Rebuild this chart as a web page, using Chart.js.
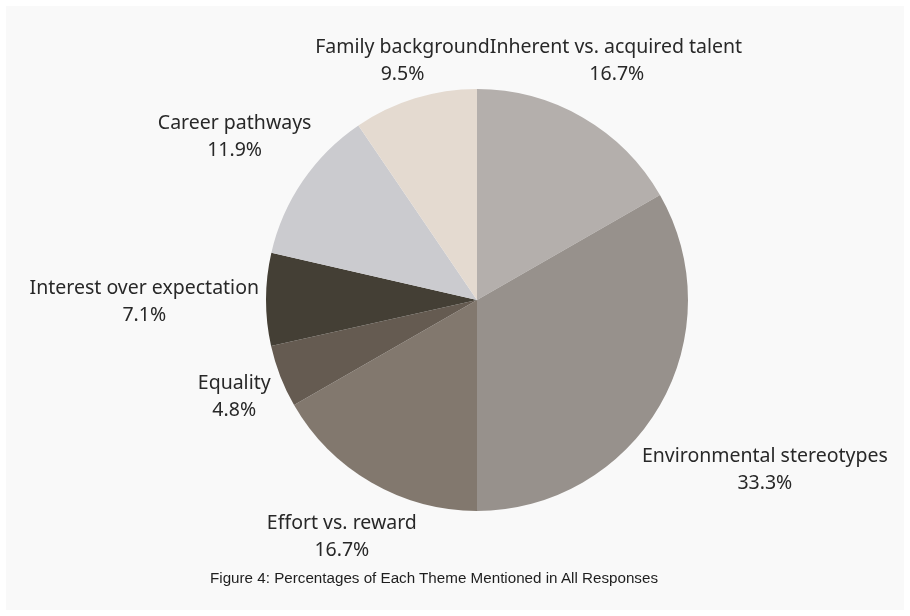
<!DOCTYPE html>
<html>
<head>
<meta charset="utf-8">
<script src="https://cdn.jsdelivr.net/npm/chart.js@4.4.1/dist/chart.umd.min.js"></script>
<style>
    html, body { margin: 0; padding: 0; background: #ffffff; }
    #panel {
        position: absolute; left: 6px; top: 6px; width: 898px; height: 604px;
        background: #f9f9f9;
    }
    #wrap { position: absolute; left: 0; top: 0; width: 910px; height: 616px; }
    #caption {
        position: absolute; left: 210px; top: 569px;
        font-family: "Liberation Sans", Arial, sans-serif; font-size: 15.2px;
        color: #1e1e1e; white-space: nowrap;
    }
</style>
</head>
<body>
<div id="panel"></div>
<div id="wrap"><canvas id="themesChart"></canvas></div>
<div id="caption">Figure 4: Percentages of Each Theme Mentioned in All Responses</div>

<script>
// themes, clockwise from 12 o'clock
const themes = [
    'Inherent vs. acquired talent',
    'Environmental stereotypes',
    'Effort vs. reward',
    'Equality',
    'Interest over expectation',
    'Career pathways',
    'Family background'
];

// share of responses (%)
const shares = [16.7, 33.3, 16.7, 4.8, 7.1, 11.9, 9.5];

const sliceColors = ['#b4afac', '#97918c', '#82786e', '#655b51', '#443f35', '#cbcbcf', '#e4dad0'];

const labelFont = '19.5px "Noto Sans", "Open Sans", sans-serif';

// name + percentage outside every slice, pushed out along the slice's middle ray
const outsideLabels = {
    id: 'outsideLabels',
    afterDraw(chart) {
        const ctx = chart.ctx;
        const arcs = chart.getDatasetMeta(0).data;
        const gap = 7, halfH = 24, lineOff = 13.5;
        const nudgeY = 3; // 'middle' baseline sits a little high for this font

        ctx.save();
        ctx.font = labelFont;
        ctx.fillStyle = '#282828';
        ctx.textAlign = 'center';
        ctx.textBaseline = 'middle';

        const boxes = arcs.map((arc, i) => {
            const title = themes[i];
            const pct = shares[i].toFixed(1) + '%';
            const tw = ctx.measureText(title).width;
            const halfW = Math.max(tw, ctx.measureText(pct).width) / 2;
            const mid = (arc.startAngle + arc.endAngle) / 2;
            const ux = Math.cos(mid), uy = Math.sin(mid);
            const want = arc.outerRadius + gap;

            // slide the box out until its nearest edge sits just off the rim
            let lo = 0, hi = 1000;
            for (let k = 0; k < 40; k++) {
                const d = (lo + hi) / 2;
                const dx = Math.max(Math.abs(ux * d) - halfW, 0);
                const dy = Math.max(Math.abs(uy * d) - halfH, 0);
                if (Math.hypot(dx, dy) < want) lo = d; else hi = d;
            }
            const d = (lo + hi) / 2;
            return { title, pct, tw, cx: arc.x + ux * d, cy: arc.y + uy * d, tx: arc.x + ux * d };
        });

        // titles sharing a row get packed against their left neighbour
        boxes.forEach(a => {
            boxes.forEach(b => {
                if (a !== b && Math.abs(a.cy - b.cy) < 12 && b.cx < a.cx) {
                    a.tx = b.tx + b.tw / 2 + a.tw / 2;
                }
            });
        });

        boxes.forEach(b => {
            ctx.fillText(b.title, b.tx, b.cy - lineOff + nudgeY);
            ctx.fillText(b.pct, b.cx, b.cy + lineOff + nudgeY);
        });
        ctx.restore();
    }
};

const ctx = document.getElementById('themesChart').getContext('2d');

new Chart(ctx, {
    type: 'pie',
    data: {
        labels: themes,
        datasets: [{
            data: shares,
            backgroundColor: sliceColors,
            borderWidth: 0
        }]
    },
    options: {
        responsive: true,
        maintainAspectRatio: false,
        animation: false,
        events: [],
        layout: {
            padding: { left: 266, right: 222, top: 89, bottom: 105 }
        },
        plugins: {
            legend: { display: false },
            tooltip: { enabled: false }
        }
    },
    plugins: [outsideLabels]
});
</script>
</body>
</html>
